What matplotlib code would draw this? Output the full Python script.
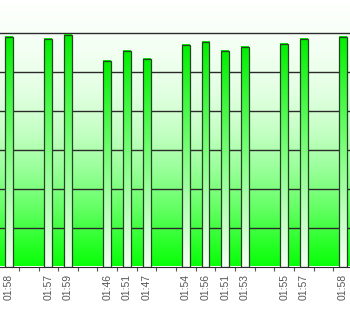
import numpy as np
import matplotlib
matplotlib.use("Agg")
from matplotlib import pyplot as plt
from matplotlib.colors import LinearSegmentedColormap

# time labels per slot (empty slot = no bar)
labels = ['01:58', '', '01:57', '01:59', '', '01:46', '01:51', '01:47', '',
          '01:54', '01:56', '01:51', '01:53', '', '01:55', '01:57', '', '01:58']
values = [5.90, None, 5.85, 5.95, None, 5.30, 5.55, 5.34, None,
          5.70, 5.79, 5.54, 5.65, None, 5.74, 5.85, None, 5.90]

plt.rcParams['font.family'] = ['Liberation Sans', 'DejaVu Sans']

fig = plt.figure(figsize=(3.5, 3.12), dpi=100)
ax = fig.add_axes([0, 45.5 / 312, 1, 266.5 / 312])

x = np.arange(len(labels))
vals = np.array([np.nan if v is None else v for v in values])

# background gradient: white top -> green bottom
bg_cmap = LinearSegmentedColormap.from_list(
    'bg', [(0, '#08ff08'), (0.1, '#30ff30'), (0.22, '#66ff66'), (0.36, '#98ff98'),
           (0.5, '#c4ffc4'), (0.65, '#e2ffe2'), (0.8, '#f2fff2'), (1.0, '#ffffff')])
grad = np.linspace(0, 1, 256).reshape(-1, 1)
ax.imshow(grad, cmap=bg_cmap, origin='lower', aspect='auto',
          extent=[-0.46, 17.35, 0, 6.86], zorder=0)

# grid lines
for g in range(1, 7):
    ax.axhline(g, color='#2a2a2a', linewidth=1.0, zorder=1)

# bars: green at top, pale at bottom
bar_cmap = LinearSegmentedColormap.from_list(
    'bar', [(0, '#f4fff4'), (0.5, '#80ff80'), (1.0, '#00f000')])
mask = ~np.isnan(vals)
bars = ax.bar(x[mask], vals[mask], width=0.4, facecolor='none',
              edgecolor='#244424', linewidth=0.9, zorder=3)
for b in bars:
    x0, y0 = b.get_x(), b.get_y()
    ax.imshow(grad, cmap=bar_cmap, origin='lower', aspect='auto',
              extent=[x0, x0 + b.get_width(), y0, y0 + b.get_height()], zorder=2)

ax.set_xlim(-0.46, 17.35)
ax.set_ylim(0, 6.86)

for side in ['top', 'left', 'right']:
    ax.spines[side].set_visible(False)
ax.spines['bottom'].set_color('#2a2a2a')
ax.spines['bottom'].set_linewidth(0.8)
ax.set_yticks([])

# ticks between slots, labels under slots
ax.set_xticks(x[:-1] + 0.5)
ax.set_xticklabels([])
ax.tick_params(axis='x', which='major', length=3, width=0.8, color='#555555')
ax.set_xticks(x, minor=True)
ax.set_xticklabels(labels, minor=True, rotation=90, fontsize=7.5, color='#555555')
ax.tick_params(axis='x', which='minor', length=0, pad=5.5)

plt.savefig('out.png', dpi=100)
